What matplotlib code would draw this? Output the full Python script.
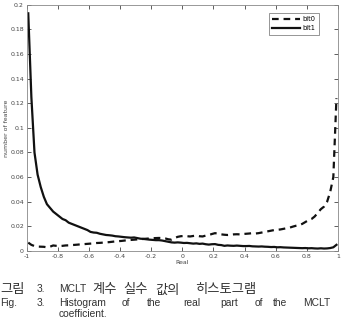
import numpy as np
import matplotlib
matplotlib.use("Agg")
import matplotlib.pyplot as plt

x_centers = [round(-0.99 + 0.02 * i, 2) for i in range(100)]

bit1 = [0.193, 0.125, 0.080, 0.062, 0.052, 0.044, 0.038, 0.035, 0.032, 0.030,
        0.028, 0.026, 0.025, 0.023, 0.022, 0.021, 0.020, 0.019, 0.018, 0.017,
        0.0155, 0.015, 0.0148, 0.014, 0.0135, 0.013, 0.0128, 0.0125, 0.012, 0.0118,
        0.0115, 0.0112, 0.011, 0.0108, 0.011, 0.0105, 0.010, 0.0098, 0.0095, 0.0092,
        0.009, 0.0088, 0.0088, 0.0085, 0.008, 0.0075, 0.007, 0.0068, 0.007, 0.0068,
        0.0065, 0.0066, 0.0063, 0.006, 0.0062, 0.0058, 0.006, 0.0055, 0.0052, 0.0055,
        0.0056, 0.005, 0.0048, 0.0042, 0.0045, 0.0043, 0.0042, 0.0044, 0.0042, 0.004,
        0.004, 0.0041, 0.0038, 0.0037, 0.0036, 0.0037, 0.0035, 0.0034, 0.0032, 0.0033,
        0.003, 0.0031, 0.0029, 0.0028, 0.0027, 0.0026, 0.0025, 0.0024, 0.0023, 0.0024,
        0.0022, 0.0023, 0.0021, 0.002, 0.0022, 0.002, 0.0021, 0.0024, 0.003, 0.005]

bit0 = [0.0068, 0.005, 0.004, 0.0036, 0.0035, 0.0034, 0.003, 0.0035, 0.0045, 0.0042,
        0.0040, 0.0042, 0.0045, 0.0046, 0.0048, 0.005, 0.0052, 0.0055, 0.0056, 0.0058,
        0.006, 0.0062, 0.0065, 0.0066, 0.0068, 0.007, 0.0072, 0.0075, 0.0078, 0.008,
        0.0082, 0.0085, 0.0088, 0.009, 0.0092, 0.0094, 0.0096, 0.0098, 0.010, 0.0102,
        0.0104, 0.0105, 0.0106, 0.0105, 0.0102, 0.0095, 0.0092, 0.0105, 0.0115, 0.012,
        0.0122, 0.012, 0.0118, 0.0122, 0.0125, 0.012, 0.0118, 0.0125, 0.013, 0.0138,
        0.0145, 0.014, 0.0135, 0.0132, 0.013, 0.0132, 0.0135, 0.0136, 0.0135, 0.0138,
        0.014, 0.0142, 0.0145, 0.0142, 0.0145, 0.015, 0.0155, 0.016, 0.0165, 0.017,
        0.0172, 0.0175, 0.018, 0.0185, 0.019, 0.0198, 0.0205, 0.021, 0.022, 0.0235,
        0.025, 0.026, 0.028, 0.031, 0.034, 0.036, 0.040, 0.048, 0.060, 0.124]

xticks = [-1, -0.8, -0.6, -0.4, -0.2, 0, 0.2, 0.4, 0.6, 0.8, 1]
xticklabels = ["-1", "-0.8", "-0.6", "-0.4", "-0.2", "0", "0.2", "0.4", "0.6", "0.8", "1"]
yticks = [0, 0.02, 0.04, 0.06, 0.08, 0.1, 0.12, 0.14, 0.16, 0.18, 0.2]
yticklabels = ["0", "0.02", "0.04", "0.06", "0.08", "0.1", "0.12", "0.14", "0.16", "0.18", "0.2"]

plt.rcParams['font.family'] = ['Noto Sans CJK KR', 'DejaVu Sans']

W, H = 343, 332
fig = plt.figure(figsize=(W / 100, H / 100), dpi=100)
ax = fig.add_axes([26.7 / W, 1 - 251 / H, (338 - 26.7) / W, (251 - 4.7) / H])

ax.plot(x_centers, bit0, color='#111111', lw=1.6, ls=(0, (3, 2.2)), label='bit0')
ax.plot(x_centers, bit1, color='#111111', lw=1.6, ls='-', label='bit1')

ax.set_xlim(-1, 1)
ax.set_ylim(0, 0.2)
ax.set_xticks(xticks)
ax.set_xticklabels(xticklabels)
ax.set_yticks(yticks)
ax.set_yticklabels(yticklabels)
ax.tick_params(direction='in', length=3, width=0.6, labelsize=4.5, colors='#444444',
               top=True, right=True, pad=2)
for s in ax.spines.values():
    s.set_linewidth(0.6)
    s.set_color('#888888')
ax.set_xlabel('Real', fontsize=4.5, color='#444444', labelpad=1, family='DejaVu Sans')
ax.set_ylabel('number of feature', fontsize=4.5, color='#444444', labelpad=1, family='DejaVu Sans')
for t in ax.get_xticklabels() + ax.get_yticklabels():
    t.set_family('DejaVu Sans')

leg = ax.legend(loc='upper right', bbox_to_anchor=(0.939, 0.9675), borderaxespad=0,
                frameon=True, fancybox=False,
                handlelength=4.2, borderpad=0.55, labelspacing=0.45, handletextpad=0.3,
                prop={'family': 'DejaVu Sans', 'size': 4.8})
leg.get_frame().set_edgecolor('#666666')
leg.get_frame().set_linewidth(0.6)

cap_color = '#333333'
lat = 'Liberation Sans'
kor = 'Noto Sans CJK KR'

renderer = fig.canvas.get_renderer()
def fit_size(s, fam, target_px):
    t = fig.text(0, 0, s, fontsize=10, family=fam)
    w = t.get_window_extent(renderer=renderer).width
    t.remove()
    return 10 * target_px / w

lfs = fit_size('Histogram', lat, 47)
kfs = fit_size('히스토그램', kor, 61)

def put(px, py, s, fam, fs):
    fig.text(px / W, 1 - py / H, s, fontsize=fs, color=cap_color, va='center', ha='left',
             family=fam)

ky = 289.5
put(0, ky, '그림', kor, kfs)
put(37, ky, '3.', lat, lfs)
put(59, ky, 'MCLT', lat, lfs)
put(92, ky, '계수', kor, kfs)
put(123, ky, '실수', kor, kfs)
put(155, ky, '값의', kor, kfs)
put(195, ky, '히스토그램', kor, kfs)

fy = 302.5
words = [(0, 'Fig.'), (37, '3.'), (59, 'Histogram'), (122, 'of'), (147, 'the'),
         (183, 'real'), (220, 'part'), (255, 'of'), (273, 'the'), (303, 'MCLT')]
for px, w in words:
    put(px, fy, w, lat, lfs)
put(59, 314, 'coefficient.', lat, lfs)

fig.savefig('out.png', dpi=100)
